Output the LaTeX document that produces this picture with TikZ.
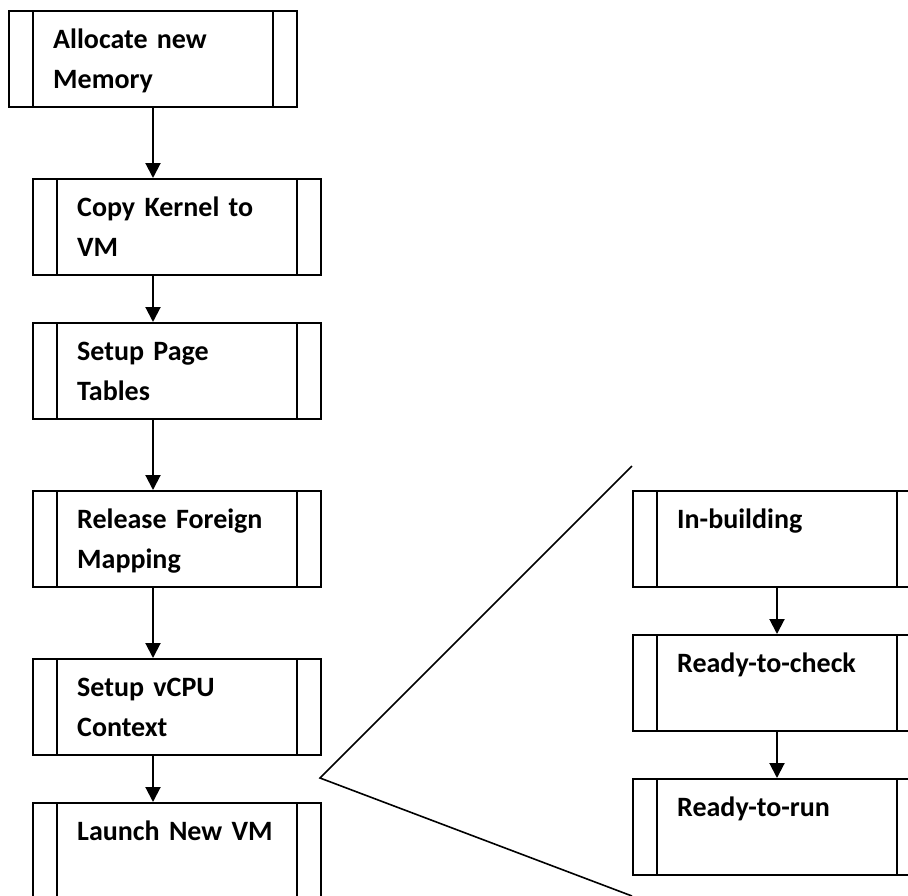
\documentclass[tikz,border=0pt]{standalone}
\usepackage{fontspec}
\setmainfont{Carlito}
\usepackage{tikz}
\usetikzlibrary{calc}
\usetikzlibrary{arrows.meta}

\tikzset{
  proc/.style={draw, line width=2pt, inner sep=0pt, anchor=north west,
    minimum width=288pt, minimum height=96pt,
    path picture={
      \draw[line width=2pt] ([xshift=24pt]path picture bounding box.north west) -- ([xshift=24pt]path picture bounding box.south west);
      \draw[line width=2pt] ([xshift=-24pt]path picture bounding box.north east) -- ([xshift=-24pt]path picture bounding box.south east);
    }},
  proctext/.style={anchor=base west, inner sep=0pt, text width=236pt, align=left,
    font=\fontsize{28pt}{40pt}\selectfont\bfseries},
  flow/.style={line width=2pt, -{Triangle[width=15pt,length=15pt]}}
}

\begin{document}
\begin{tikzpicture}[x=1pt, y=-1pt]

\useasboundingbox (0,0) rectangle (908,895);
\clip (0,0) rectangle (908,895);

% build steps
\node[proc] (b1) at (8,10) {};
\node[proc] (b2) at (32,178) {};
\node[proc] (b3) at (32,322) {};
\node[proc] (b4) at (32,490) {};
\node[proc] (b5) at (32,658) {};
\node[proc] (b6) at (32,802) {};

\node[proctext] (t1) at ($(b1.north west)+(45,38)$) {Allocate new\\Memory};
\node[proctext] (t2) at ($(b2.north west)+(45,38)$) {Copy Kernel to\\VM};
\node[proctext] (t3) at ($(b3.north west)+(45,38)$) {Setup Page\\Tables};
\node[proctext] (t4) at ($(b4.north west)+(45,38)$) {Release Foreign\\Mapping};
\node[proctext] (t5) at ($(b5.north west)+(45,38)$) {Setup vCPU\\Context};
\node[proctext] (t6) at ($(b6.north west)+(45,38)$) {Launch New VM};

\draw[flow] (b1.south) -- (b1.south |- b2.north);
\draw[flow] (b1.south |- b2.south) -- (b1.south |- b3.north);
\draw[flow] (b1.south |- b3.south) -- (b1.south |- b4.north);
\draw[flow] (b1.south |- b4.south) -- (b1.south |- b5.north);
\draw[flow] (b1.south |- b5.south) -- (b1.south |- b6.north);

% VM states
\node[proc] (r1) at (632,490) {};
\node[proc] (r2) at (632,634) {};
\node[proc] (r3) at (632,778) {};

\node[proctext] (s1) at ($(r1.north west)+(45,38)$) {In-building};
\node[proctext] (s2) at ($(r2.north west)+(45,38)$) {Ready-to-check};
\node[proctext] (s3) at ($(r3.north west)+(45,38)$) {Ready-to-run};

\draw[flow] (r1.south) -- (r2.north);
\draw[flow] (r2.south) -- (r3.north);

% zoom lines
\coordinate (apex) at (320,778);
\coordinate (ztop) at (632,466);
\coordinate (zbot) at (632,896);
\draw[line width=1.6pt] (ztop) -- (apex) -- (zbot);

\end{tikzpicture}
\end{document}
